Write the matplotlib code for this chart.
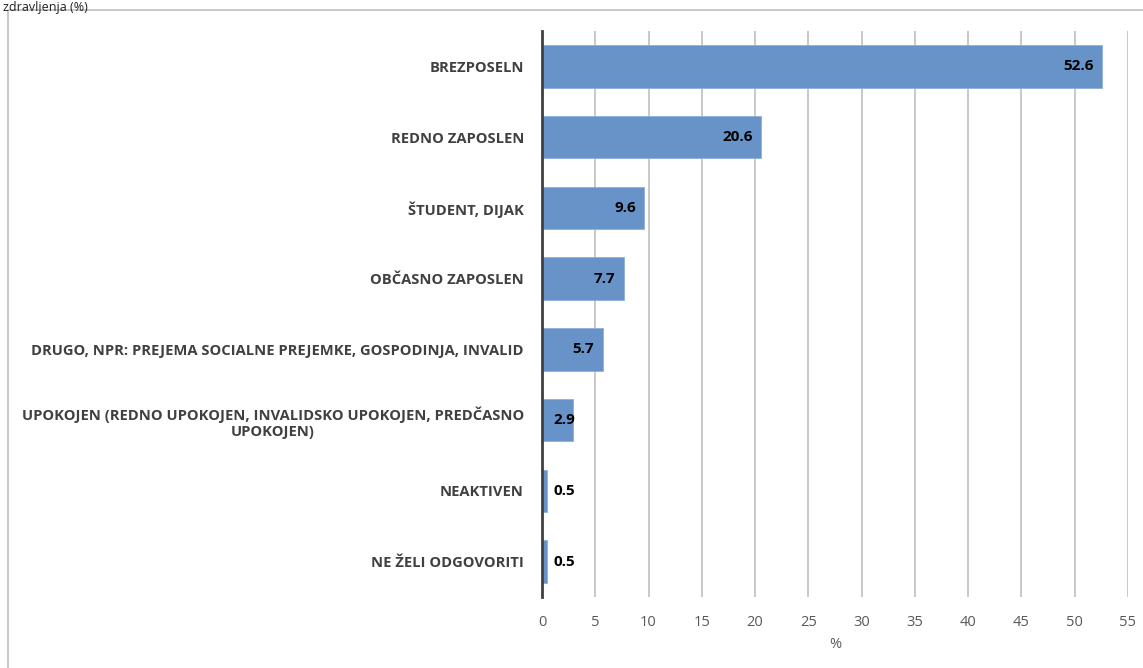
import matplotlib
matplotlib.use("Agg")
import matplotlib.pyplot as plt
from matplotlib.patches import Rectangle

categories = [
    "BREZPOSELN",
    "REDNO ZAPOSLEN",
    "ŠTUDENT, DIJAK",
    "OBČASNO ZAPOSLEN",
    "DRUGO, NPR: PREJEMA SOCIALNE PREJEMKE, GOSPODINJA, INVALID",
    "UPOKOJEN (REDNO UPOKOJEN, INVALIDSKO UPOKOJEN, PREDČASNO\nUPOKOJEN)",
    "NEAKTIVEN",
    "NE ŽELI ODGOVORITI",
]
values = [52.6, 20.6, 9.6, 7.7, 5.7, 2.9, 0.5, 0.5]
xticks = [0, 5, 10, 15, 20, 25, 30, 35, 40, 45, 50, 55]
title_text = "zdravljenja (%)"
xlabel = "%"

plt.rcParams['font.family'] = ['Open Sans', 'DejaVu Sans']

fig = plt.figure(figsize=(11.43, 6.68), dpi=100)
fig.patch.set_facecolor('white')

# outer chart frame
fig.patches.append(Rectangle((8/1143, -0.01), 1.2, 1 - 10/668 + 0.01,
                             transform=fig.transFigure, fill=False,
                             edgecolor='#BFBFBF', linewidth=1.2))
fig.text(0.003, 0.999, title_text, fontsize=9, color='#222222',
         ha='left', va='top')

ax = fig.add_axes([542/1143, 1 - 597/668, (1128 - 542)/1143, (597 - 31)/668])
y = list(range(len(categories)))
ax.barh(y, values, height=0.6, color='#6793C9', edgecolor='#8FB0DA',
        linewidth=0.6, zorder=3)
ax.set_ylim(len(categories) - 0.5, -0.5)
ax.set_xlim(0, 55)
ax.set_xticks(xticks)
ax.set_xticklabels([str(t) for t in xticks], fontsize=10.5, color='#595959')
ax.tick_params(axis='x', length=0, pad=13)
ax.set_yticks(y)
ax.set_yticklabels(categories, fontsize=10.6, fontweight='bold', color='#404040',
                   multialignment='center')
ax.tick_params(axis='y', length=0, pad=13)
ax.set_xlabel(xlabel, fontsize=10.5, color='#595959', labelpad=5)
ax.grid(axis='x', color='#C8C8C8', linewidth=1.4, zorder=0)
ax.set_axisbelow(True)
for s in ['top', 'right', 'bottom']:
    ax.spines[s].set_visible(False)
ax.spines['left'].set_color('#404040')
ax.spines['left'].set_linewidth(2)
ax.spines['left'].set_zorder(5)

for yi, v in zip(y, values):
    if v >= 4:
        ax.annotate(f"{v}", (v, yi), xytext=(-6, 0), textcoords='offset points',
                    ha='right', va='center', fontsize=11, fontweight='bold',
                    color='black', zorder=6)
    else:
        ax.annotate(f"{v}", (0, yi), xytext=(8, 0), textcoords='offset points',
                    ha='left', va='center', fontsize=11, fontweight='bold',
                    color='black', zorder=6)

fig.savefig("out.png", dpi=100)
